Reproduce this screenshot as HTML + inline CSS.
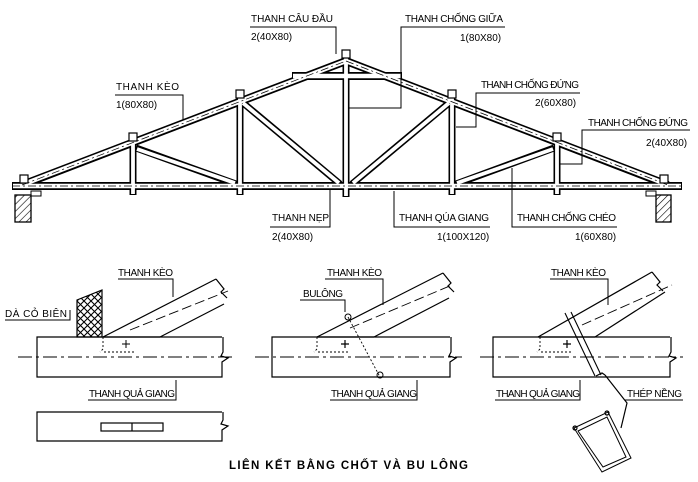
<!DOCTYPE html>
<html><head><meta charset="utf-8"><style>
html,body{margin:0;padding:0;background:#fff;}
svg{display:block;}
text{font-family:"Liberation Sans",sans-serif;font-size:10px;fill:#000;}
</style></head><body>
<svg width="698" height="482" viewBox="0 0 698 482" xmlns="http://www.w3.org/2000/svg">
<defs>
<pattern id="h" width="5" height="5" patternUnits="userSpaceOnUse" patternTransform="rotate(45)">
<line x1="0" y1="0" x2="0" y2="5" stroke="#000" stroke-width="1.2"/></pattern>
<pattern id="x" width="7" height="7" patternUnits="userSpaceOnUse">
<path d="M0 0L7 7M7 0L0 7" stroke="#000" stroke-width="1.1"/></pattern>
</defs>
<!-- truss outer -->
<g stroke="#000" stroke-linecap="butt" fill="none">
<g stroke-width="8">
<line x1="12" y1="186" x2="682" y2="186"/>
<line x1="22" y1="185" x2="346" y2="61"/>
<line x1="346" y1="61" x2="668" y2="185"/>
<line x1="292" y1="76" x2="402" y2="76"/>
</g>
<g stroke-width="7">
<line x1="133" y1="140" x2="133" y2="195"/>
<line x1="240" y1="96" x2="240" y2="195"/>
<line x1="346" y1="54" x2="346" y2="197"/>
<line x1="452" y1="96" x2="452" y2="195"/>
<line x1="557" y1="140" x2="557" y2="195"/>
<line x1="242" y1="102" x2="340" y2="184"/>
<line x1="136" y1="148" x2="236" y2="184"/>
<line x1="450" y1="102" x2="352" y2="184"/>
<line x1="554" y1="148" x2="456" y2="184"/>
</g>
<g stroke="#fff" stroke-width="4.6">
<line x1="13" y1="186" x2="681" y2="186"/>
<line x1="24" y1="184" x2="346" y2="61"/>
<line x1="346" y1="61" x2="666" y2="184"/>
<line x1="293" y1="76" x2="401" y2="76"/>
</g>
<g stroke="#fff" stroke-width="3.8">
<line x1="133" y1="141" x2="133" y2="194"/>
<line x1="240" y1="97" x2="240" y2="194"/>
<line x1="346" y1="55" x2="346" y2="196"/>
<line x1="452" y1="97" x2="452" y2="194"/>
<line x1="557" y1="141" x2="557" y2="194"/>
<line x1="243" y1="103" x2="339" y2="183"/>
<line x1="137" y1="149" x2="235" y2="183"/>
<line x1="449" y1="103" x2="353" y2="183"/>
<line x1="553" y1="149" x2="457" y2="183"/>
</g>
<g stroke-width="0.7" stroke-dasharray="8 3 2 3">
<line x1="12" y1="186" x2="682" y2="186"/>
<line x1="22" y1="185" x2="346" y2="61"/>
<line x1="346" y1="61" x2="668" y2="185"/>
</g>
<!-- bolts -->
<g fill="#fff" stroke-width="1.2">
<rect x="129" y="133" width="8" height="8"/>
<rect x="236" y="90" width="8" height="8"/>
<rect x="342" y="50" width="8" height="8"/>
<rect x="448" y="90" width="8" height="8"/>
<rect x="553" y="133" width="8" height="8"/>
<rect x="20" y="175" width="8" height="8"/>
<rect x="660" y="175" width="8" height="8"/>
</g>
<!-- supports -->
<rect x="15" y="195" width="16" height="27" fill="url(#h)" stroke-width="1.3"/>
<rect x="656" y="195" width="15" height="27" fill="url(#h)" stroke-width="1.3"/>
<path d="M31 191h10v5h-10z M646 191h10v5h-10z" stroke-width="1"/>
<!-- leaders -->
<g stroke-width="1">
<path d="M250 27H336V54"/>
<path d="M505 27H401V108H349"/>
<path d="M115 95H183V120"/>
<path d="M580 93H476V127H456"/>
<path d="M690 130H582V164H560"/>
<path d="M270 227H330V190"/>
<path d="M490 227H394V191"/>
<path d="M617 227H512V168"/>
</g>
</g>
<text x="251" y="22" textLength="82">THANH CÂU ĐẦU</text>
<text x="251" y="40">2(40X80)</text>
<text x="405" y="22" textLength="98">THANH CHỐNG GIỮA</text>
<text x="460" y="41">1(80X80)</text>
<text x="116" y="90" textLength="63">THANH KÈO</text>
<text x="116" y="108">1(80X80)</text>
<text x="481" y="88" textLength="98">THANH CHỐNG ĐỨNG</text>
<text x="535" y="106">2(60X80)</text>
<text x="588" y="126" textLength="100">THANH CHỐNG ĐỨNG</text>
<text x="646" y="146">2(40X80)</text>
<text x="272" y="221" textLength="57">THANH NẸP</text>
<text x="272" y="240">2(40X80)</text>
<text x="399" y="221" textLength="90">THANH QÚA GIANG</text>
<text x="437" y="240">1(100X120)</text>
<text x="517" y="221" textLength="99">THANH CHỐNG CHÉO</text>
<text x="575" y="240">1(60X80)</text>

<!-- bottom details -->
<g stroke="#000" fill="none" stroke-width="1.2">
<!-- detail 1 -->
<path d="M222 337H37V377H222V362l6-4-7-2 2-4v-15"/>
<path d="M77 337V300l25-10v47z" fill="url(#x)"/>
<path d="M103 337L216 279"/><path d="M160 337L224 304"/>
<path d="M103 337h57"/>
<path d="M216 279l8 10-3 3 6 6"/>
<line x1="18" y1="357" x2="236" y2="357" stroke-width="0.9" stroke-dasharray="14 4 3 4"/>
<line x1="130" y1="330" x2="228" y2="291" stroke-width="0.9" stroke-dasharray="10 4"/>
<path d="M103 337v12l-3 3M104 352h32" stroke-width="0.9" stroke-dasharray="2 2"/>
<path d="M126 340v8M122 344h8" stroke-width="1"/>
<path d="M222 412H37V441H222V430l6-4-7-2 2-4v-8"/>
<rect x="101" y="423" width="62" height="8"/><line x1="132" y1="423" x2="132" y2="431"/>
<path d="M5 320H70V310" stroke-width="1"/>
<path d="M118 279H173V297" stroke-width="1"/>
<path d="M88 400H176V380" stroke-width="1"/>
<!-- detail 2 -->
<path d="M450 337H272V377H450V362l6-4-7-2 2-4v-15"/>
<path d="M317 337L443 273"/><path d="M374 337L449 298"/>
<path d="M317 337h57"/>
<path d="M443 273l8 10-3 3 6 6"/>
<line x1="255" y1="357" x2="462" y2="357" stroke-width="0.9" stroke-dasharray="14 4 3 4"/>
<line x1="350" y1="328" x2="452" y2="285" stroke-width="0.9" stroke-dasharray="10 4"/>
<path d="M317 337v12l-3 3M318 352h32" stroke-width="0.9" stroke-dasharray="2 2"/>
<path d="M345 340v8M341 344h8"/>
<path d="M348 317L380 377" stroke-width="0.9" stroke-dasharray="2 2"/>
<circle cx="348" cy="317" r="3" stroke-width="1"/><circle cx="380" cy="375" r="3" stroke-width="1"/>
<path d="M325 279H383V305" stroke-width="1"/>
<path d="M300 300H345V312" stroke-width="1"/>
<path d="M330 400H417V380" stroke-width="1"/>
<!-- detail 3 -->
<path d="M670 337H493V377H670V362l6-4-7-2 2-4v-15"/>
<path d="M538 337L652 272"/><path d="M595 337L665 292"/>
<path d="M538 337h57"/>
<path d="M652 272l8 10-3 3 6 6"/>
<line x1="480" y1="357" x2="683" y2="357" stroke-width="0.9" stroke-dasharray="14 4 3 4"/>
<line x1="582" y1="325" x2="672" y2="285" stroke-width="0.9" stroke-dasharray="10 4"/>
<path d="M540 337v12l-3 3M541 352h32" stroke-width="0.9" stroke-dasharray="2 2"/>
<path d="M567 340v8M563 344h8"/>
<path d="M565 313L595 376M571 312L601 375" stroke-width="1.1"/>
<path d="M596 376l6-3 3 2M605 375L627 403L621 428"/>
<path d="M574 428L608 412L631 458L602 472Z M578 431L607 417L626 457L603 467Z" stroke-width="1"/>
<circle cx="575" cy="428" r="2"/><circle cx="607" cy="413" r="2"/>
<path d="M550 279H608V305" stroke-width="1"/>
<path d="M495 400H580V380" stroke-width="1"/>
<path d="M625 400H683" stroke-width="1"/>
</g>
<g style="font-size:9px">
<text x="118" y="276" textLength="55">THANH KÈO</text>
<text x="5" y="317" textLength="62">DÀ CỎ BIÊN</text>
<text x="89" y="397" textLength="86">THANH QUẢ GIANG</text>
<text x="327" y="276" textLength="55">THANH KÈO</text>
<text x="303" y="297" textLength="40">BULÔNG</text>
<text x="331" y="397" textLength="86">THANH QUẢ GIANG</text>
<text x="551" y="276" textLength="55">THANH KÈO</text>
<text x="496" y="397" textLength="84">THANH QUẢ GIANG</text>
<text x="627" y="397" textLength="55">THÉP NỀNG</text>
</g>
<text x="229" y="469" textLength="239" style="font-size:11.5px;font-weight:bold">LIÊN KẾT BẰNG CHỐT VÀ BU LÔNG</text>
</svg>
</body></html>
